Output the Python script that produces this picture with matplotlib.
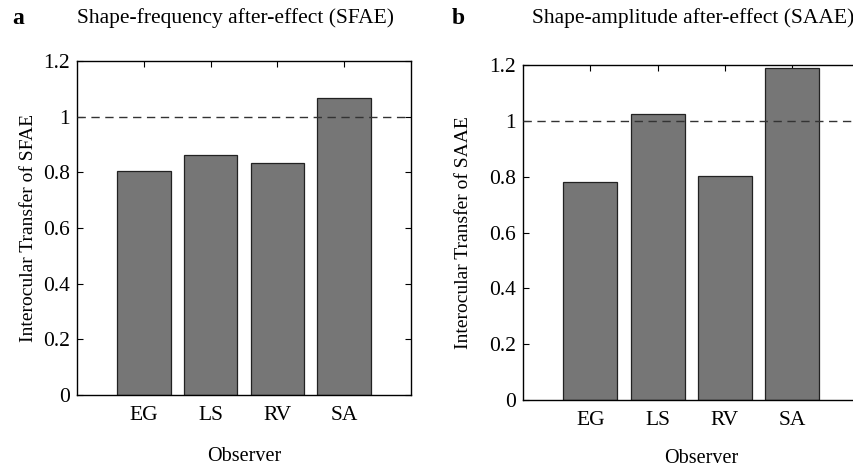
import matplotlib
matplotlib.use("Agg")
import matplotlib.pyplot as plt

observers = ["EG", "LS", "RV", "SA"]
sfae_transfer = [0.805, 0.863, 0.835, 1.068]
saae_transfer = [0.780, 1.024, 0.803, 1.189]
yticks = [0, 0.2, 0.4, 0.6, 0.8, 1.0]
ytick_labels = ["0", "0.2", "0.4", "0.6", "0.8", "1"]

plt.rcParams['font.family'] = ['Liberation Serif', 'DejaVu Serif']
W, H = 854, 469
fig = plt.figure(figsize=(W / 100, H / 100), dpi=100)

FS_TICK = 15.5
FS_TITLE = 15.5
FS_YLAB = 14
FS_XLAB = 14.5
BAR = "#767676"

def make_axes(l, t, r, b):
    return fig.add_axes([l / W, 1 - b / H, (r - l) / W, (b - t) / H])

def style(ax, values, ylabel):
    x = list(range(1, len(values) + 1))
    ax.bar(x, values, width=0.8, color=BAR, edgecolor="#222222", linewidth=0.9, zorder=2)
    ax.axhline(1.0, color="#333333", linestyle=(0, (6, 4)), linewidth=1.0, zorder=3)
    ax.set_xlim(0, 5)
    ax.set_ylim(0, 1.2)
    ax.set_xticks(x)
    ax.set_xticklabels(observers, fontsize=FS_TICK)
    ax.set_yticks(yticks + [1.2])
    ax.set_yticklabels(ytick_labels + ["1.2"], fontsize=FS_TICK)
    ax.tick_params(direction="in", top=True, right=True, length=4, width=0.8)
    ax.tick_params(axis="x", pad=8)
    ax.tick_params(axis="y", pad=5)
    for s in ax.spines.values():
        s.set_linewidth(1.0)
    ax.set_ylabel(ylabel, fontsize=FS_YLAB)

axa = make_axes(77, 61, 411, 395)
style(axa, sfae_transfer, "Interocular Transfer of SFAE")
axa.yaxis.set_label_coords(-0.12, 0.5)

axb = make_axes(523, 65, 859.5, 400)
style(axb, saae_transfer, "Interocular Transfer of SAAE")
axb.yaxis.set_label_coords(-0.152, 0.5)

fig.text(244 / W, 1 - 456 / H, "Observer", ha="center", va="center", fontsize=FS_XLAB)
fig.text(701 / W, 1 - 458 / H, "Observer", ha="center", va="center", fontsize=FS_XLAB)

fig.text(12 / W, 1 - 18 / H, "a", fontsize=17, fontweight="bold", ha="left", va="center")
fig.text(452 / W, 1 - 18 / H, "b", fontsize=17, fontweight="bold", ha="left", va="center")
fig.text(77 / W, 1 - 18 / H, "Shape-frequency after-effect (SFAE)", fontsize=FS_TITLE, ha="left", va="center")
fig.text(532 / W, 1 - 18 / H, "Shape-amplitude after-effect (SAAE)", fontsize=FS_TITLE, ha="left", va="center")

fig.savefig("out.png", dpi=100)
